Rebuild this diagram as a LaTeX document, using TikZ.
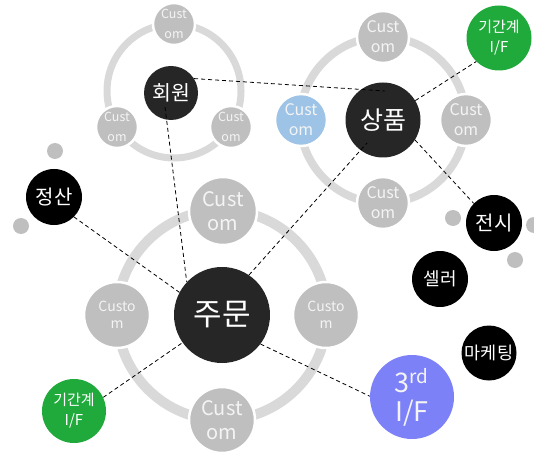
\documentclass[tikz,border=0pt]{standalone}
\usepackage{fontspec}
\setmainfont{Noto Sans CJK KR}
\definecolor{hubdark}{HTML}{262626}
\definecolor{satgray}{HTML}{BFBFBF}
\definecolor{ringgray}{HTML}{D9D9D9}
\definecolor{ifgreen}{HTML}{20AA3C}
\definecolor{skyblue}{HTML}{9DC3E6}
\definecolor{thirdblue}{HTML}{7D81F8}
\definecolor{sattext}{HTML}{F4F4F4}
\tikzset{
  ringline/.style={draw=ringgray},
  satnode/.style={circle, fill=satgray, draw=white, line width=2.5pt, text=sattext, inner sep=0pt, align=center},
  hubnode/.style={circle, fill=hubdark, text=white, inner sep=0pt, align=center},
  blacknode/.style={circle, fill=black, text=white, inner sep=0pt, align=center},
  greennode/.style={circle, fill=ifgreen, text=white, inner sep=0pt, align=center, font=\fontsize{15}{20}\selectfont},
  dotnode/.style={circle, fill=satgray, inner sep=0pt, minimum size=16pt},
  dl/.style={draw=black, line width=0.8pt, dash pattern=on 4pt off 3pt}
}
\begin{document}
\begin{tikzpicture}[x=1pt,y=-1pt]
\useasboundingbox (0,0) rectangle (534,454);
% rings
\draw[ringline, line width=7pt] (174,91) circle[radius=67];
\draw[ringline, line width=8pt] (383,120) circle[radius=83];
\draw[ringline, line width=10pt] (222,315) circle[radius=105];

% 회원 group
\node[hubnode, minimum size=54pt, font=\fontsize{20.5}{24}\selectfont] (hoewon) at (171,93) {회원};
\node[satnode, minimum size=42pt, font=\fontsize{12.5}{20}\selectfont] (h1) at (174,24) {Cust\\om};
\node[satnode, minimum size=42pt, font=\fontsize{12.5}{20}\selectfont] (h2) at (117,127) {Cust\\om};
\node[satnode, minimum size=42pt, font=\fontsize{12.5}{20}\selectfont] (h3) at (231,127) {Cust\\om};

% 상품 group
\node[hubnode, minimum size=75pt, font=\fontsize{25}{28}\selectfont] (sangpum) at (383,120) {상품};
\node[satnode, minimum size=52pt, font=\fontsize{16}{20}\selectfont] (s1) at (383,37) {Cust\\om};
\node[satnode, fill=skyblue, minimum size=52pt, font=\fontsize{16}{20}\selectfont] (s2) at (301,120) {Cust\\om};
\node[satnode, minimum size=52pt, font=\fontsize{16}{20}\selectfont] (s3) at (466,120) {Cust\\om};
\node[satnode, minimum size=52pt, font=\fontsize{16}{20}\selectfont] (s4) at (383,203) {Cust\\om};

% 주문 group
\node[hubnode, minimum size=96pt, font=\fontsize{31}{34}\selectfont] (jumun) at (222,315) {주문};
\node[satnode, minimum size=68pt, font=\fontsize{20}{24}\selectfont] (j1) at (223,211) {Cust\\om};
\node[satnode, minimum size=66pt, font=\fontsize{14}{17}\selectfont] (j2) at (117,315) {Custo\\m};
\node[satnode, minimum size=66pt, font=\fontsize{14}{17}\selectfont] (j3) at (326,315) {Custo\\m};
\node[satnode, minimum size=66pt, font=\fontsize{20}{24}\selectfont] (j4) at (222,420) {Cust\\om};

% others
\node[blacknode, minimum size=56pt, font=\fontsize{20}{24}\selectfont] (jeongsan) at (54,197) {정산};
\node[dotnode] (d1) at (55,151) {};
\node[dotnode] (d2) at (21,226) {};
\node[greennode, minimum size=65pt] (gigan1) at (499,38) {기간계\\I/F};
\node[greennode, minimum size=64pt] (gigan2) at (74,411) {기간계\\I/F};
\node[blacknode, minimum size=56pt, font=\fontsize{20}{24}\selectfont] (jeonsi) at (494,223) {전시};
\node[dotnode] (d3) at (453,218) {};
\node[dotnode] (d4) at (515,260) {};
\node[dotnode] (d5) at (534,225) {};
\node[blacknode, minimum size=56pt, font=\fontsize{18}{22}\selectfont] (seller) at (440,279) {셀러};
\node[blacknode, minimum size=55pt, font=\fontsize{17.5}{22}\selectfont] (marketing) at (489,353) {마케팅};
\node[circle, fill=thirdblue, text=sattext, inner sep=0pt, align=center, minimum size=84pt, font=\fontsize{27}{29}\selectfont] (third) at (412,397) {3\textsuperscript{rd}\\I/F};

% connector ends inside hubs
\coordinate (e1) at (385,91);
\coordinate (e2) at (165,107);
\coordinate (e5) at (367,143);

% dashed connectors
\draw[dl] (hoewon.32) -- (e1);
\draw[dl] (e2) -- (jumun.137);
\draw[dl] (jeongsan.-45) -- (jumun.152);
\draw[dl] (gigan2.25) -- (jumun.215);
\draw[dl] (jumun.56) -- (e5);
\draw[dl] (sangpum.31) -- (gigan1.226);
\draw[dl] (sangpum.-32) -- (jeonsi.136);
\draw[dl] (jumun.-37) -- (third.179);
\end{tikzpicture}
\end{document}
